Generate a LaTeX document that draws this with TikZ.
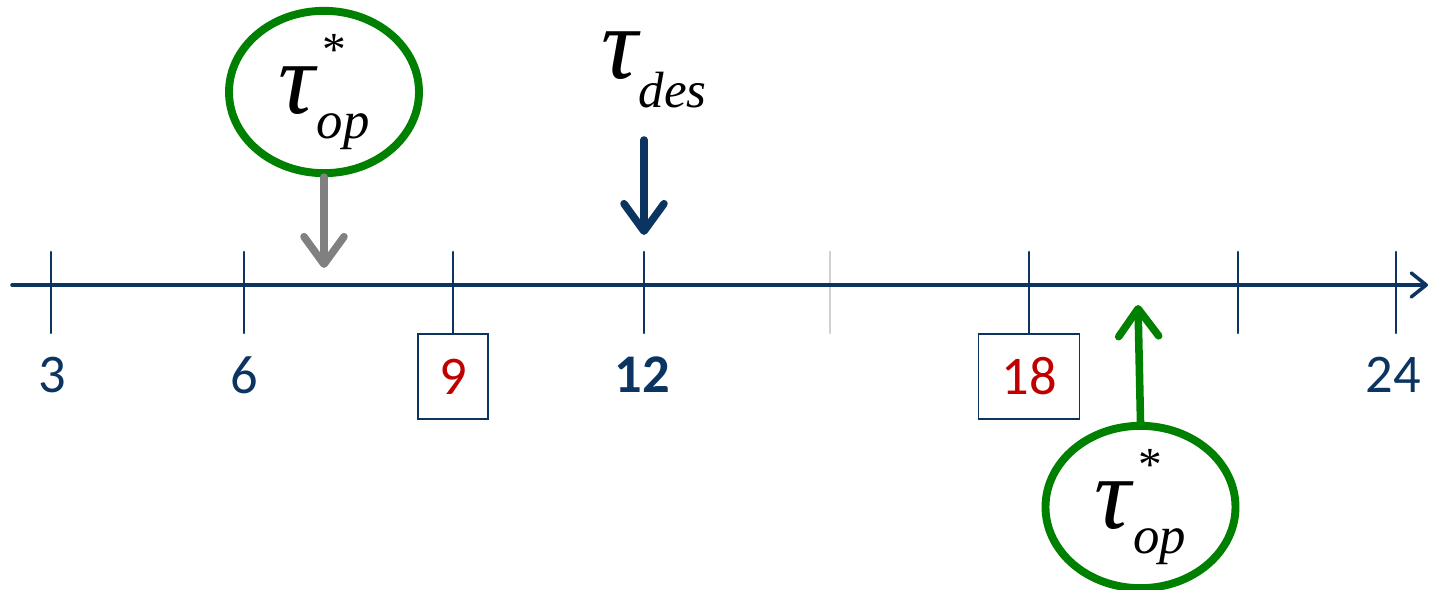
\documentclass[tikz,border=0pt]{standalone}
\usepackage{fontspec}
\setmainfont{Carlito}
\newfontfamily\timesrm{Liberation Serif}
\newfontfamily\timesit{Liberation Serif Italic}
\usetikzlibrary{shapes,arrows.meta,positioning}

\definecolor{navy}{RGB}{12,52,97}
\definecolor{optgreen}{RGB}{0,128,0}
\definecolor{slotred}{RGB}{192,0,0}

% tau with star and op subscript
\newcommand{\tauop}{%
  {\timesit\fontsize{58}{58}\selectfont τ}%
  \rlap{\hspace{0.15cm}\raisebox{0.95cm}{\timesrm\fontsize{27}{27}\selectfont *}}%
  \hspace{0.04cm}\raisebox{-0.5cm}{\timesit\fontsize{30}{30}\selectfont op}}
\newcommand{\taudes}{%
  {\timesit\fontsize{58}{58}\selectfont τ}%
  \hspace{0.02cm}\raisebox{-0.58cm}{\timesit\fontsize{29}{29}\selectfont des}}

\begin{document}
\begin{tikzpicture}
      [line cap=round,
      tick/.style={draw=navy, line width=1.4pt},
      num/.style={text=navy, font=\fontsize{31}{31}\selectfont},
      slot/.style={rectangle, draw=navy, line width=1.1pt, text=slotred,
        minimum width=1.4cm, minimum height=1.7cm, inner sep=0pt,
        font=\fontsize{31}{31}\selectfont},
      opt/.style={ellipse, draw=optgreen, line width=4.5pt,
        minimum width=3.8cm, minimum height=3.16cm, inner sep=0pt},
      barb/.style={-{Straight Barb[round, length=0.55cm, width=0.8cm]},
        line width=4.3pt}]
      \useasboundingbox (0,0) rectangle (28.62,11.8);
      % Axis end points
      \coordinate (axL) at (0.24,6.1);
      \coordinate (axR) at (28.56,6.1);
      % Place nodes
      \node [slot, anchor=north] (s9) at (9.06,5.14) {9};
      \node [slot, anchor=north, minimum width=2.02cm] (s18) at (20.58,5.14) {18};
      \node [num] (n3) at (1.04,4.3) {3};
      \node [num] (n6) at (4.88,4.3) {6};
      \node [num, font=\fontsize{31}{31}\selectfont\bfseries] (n12) at (12.84,4.3) {12};
      \node [num] (n24) at (27.86,4.3) {24};
      \node [opt] (optA) at (6.48,9.96) {\tauop};
      \node [opt] (optB) at (22.81,1.66) {\tauop};
      \node (des) at (13.08,10.4) {\taudes};
      \coordinate (hitA) at (6.48,6.44);
      \coordinate (hitB) at (22.76,5.7);
      \coordinate (desTop) at (12.88,9.0);
      \coordinate (desTip) at (12.88,7.1);
      % Ticks
      \draw [tick] (1.02,6.76) -- (1.02,5.14);
      \draw [tick] (4.88,6.76) -- (4.88,5.14);
      \draw [tick] (9.06,6.76) -- (s9.north);
      \draw [tick] (12.88,6.76) -- (12.88,5.14);
      \draw [tick, draw=black!18] (16.6,6.76) -- (16.6,5.14);
      \draw [tick] (20.58,6.76) -- (s18.north);
      \draw [tick] (24.76,6.76) -- (24.76,5.14);
      \draw [tick] (27.92,6.76) -- (27.92,5.14);
      % Draw edges
      \draw [navy, line width=2pt, -{Straight Barb[round, length=0.3cm, width=0.48cm]}] (axL) -- (axR);
      \draw [barb, draw=gray] (optA.south) -- (hitA);
      \draw [barb, draw=navy] (desTop) -- (desTip);
      \draw [barb, draw=optgreen] (optB.north) -- (hitB);
\end{tikzpicture}
\end{document}
